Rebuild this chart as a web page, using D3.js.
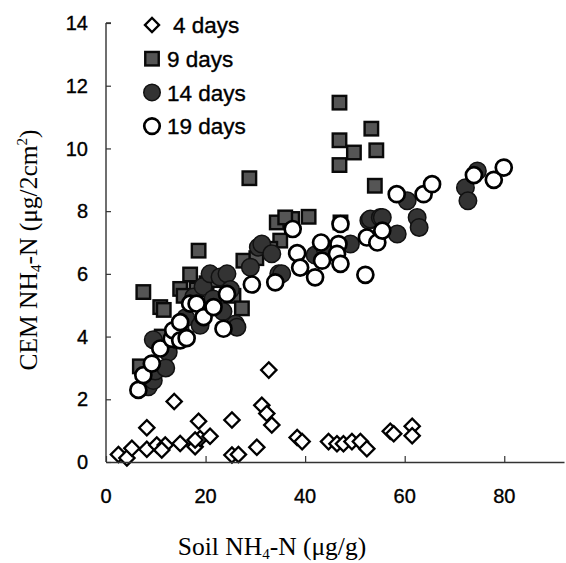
<!DOCTYPE html>
<html>
<head>
<meta charset="utf-8">
<script src="https://cdn.jsdelivr.net/npm/d3@7"></script>
<style>
  html, body { margin: 0; padding: 0; background: #fff; }
  svg { display: block; }
</style>
</head>
<body>
<div id="chart"></div>
<script>
// Data: [soil NH4-N (ug/g), CEM NH4-N (ug/2cm2)]
const days4 = [
  [2.5, 0.24], [4.2, 0.13], [5.2, 0.44], [8.2, 0.41], [8.2, 1.09], [10.2, 0.54],
  [11.9, 0.54], [11.2, 0.38], [13.7, 1.93], [14.9, 0.59], [17.9, 0.49], [18.6, 1.3],
  [18.9, 0.75], [20.9, 0.82], [17.9, 0.7], [25.3, 1.34], [25.3, 0.22], [26.6, 0.24],
  [30.3, 0.47], [31.3, 1.81], [32.3, 1.55], [33.3, 1.18], [32.7, 2.93], [38.4, 0.78],
  [39.4, 0.65], [44.7, 0.65], [46.4, 0.58], [47.7, 0.58], [49.4, 0.65], [51.1, 0.65],
  [52.4, 0.42], [57.1, 0.98], [57.8, 0.9], [61.5, 1.14], [61.5, 0.84]
];
const days9 = [
  [6.8, 3.05], [7.5, 5.42], [10.9, 4.94], [11.6, 4.85], [11.2, 4.0], [14.9, 5.52],
  [15.6, 5.3], [16.9, 5.98], [18.6, 6.74], [18.2, 5.5], [20.2, 5.7], [22.2, 5.8],
  [25.6, 5.3], [27.3, 4.9], [27.6, 6.42], [28.8, 9.05], [34.3, 7.64], [35, 7.06],
  [37.4, 7.75], [40.7, 7.82], [47.1, 7.64], [46.9, 11.46], [46.9, 10.26], [46.9, 9.47],
  [49.8, 9.87], [53.3, 10.63], [54.3, 9.94], [54, 8.81], [36, 7.8], [30.2, 6.5], [33, 6.8]
];
const days14 = [
  [8.5, 2.4], [9.5, 2.6], [9.9, 2.9], [9.5, 3.9], [12.5, 3.5], [14.2, 3.9], [14.9, 4.2],
  [16, 4.6], [17.6, 5.26], [18.9, 4.36], [19.5, 5.6], [20.9, 6.0], [22.9, 5.9], [24.3, 6.0],
  [25, 5.5], [26, 4.4], [26.3, 4.3], [29, 6.21], [30.6, 6.85], [31.3, 6.95], [33.3, 6.64],
  [34.7, 6.0], [35.3, 6.0], [42, 6.6], [44, 6.8], [49.1, 6.95], [52.8, 7.7], [53.1, 7.75],
  [55.1, 7.8], [55.5, 7.8], [58.5, 7.27], [60.5, 8.33], [62.5, 7.8], [62.9, 7.48],
  [72.2, 8.75], [72.7, 8.33], [74.6, 9.28], [21.5, 5.2], [23.5, 4.8], [12, 3.0]
];
const days19 = [
  [6.5, 2.3], [7.5, 2.77], [9.2, 3.14], [10.9, 3.62], [13.2, 3.93], [13.5, 4.2],
  [14.9, 4.46], [14.9, 3.88], [16.2, 3.95], [16.9, 5.05], [18.2, 5.05], [19.6, 4.62],
  [21.6, 4.94], [23.6, 4.25], [24.3, 5.36], [29.3, 5.66], [34, 5.73], [37.5, 7.43],
  [38.4, 6.66], [39, 6.2], [42, 5.89], [43.2, 7.0], [43.4, 6.42], [46.7, 6.95],
  [46.4, 6.64], [47.1, 6.32], [47.1, 7.59], [52.1, 5.97], [52.4, 7.16], [54.5, 7.0],
  [55.5, 7.38], [58.4, 8.54], [63.8, 8.54], [65.5, 8.86], [73.9, 9.15], [77.9, 9.0],
  [79.9, 9.39]
];
const seriesNames = ['4 days', '9 days', '14 days', '19 days'];
const xTicks = [0, 20, 40, 60, 80];
const yTicks = [0, 2, 4, 6, 8, 10, 12, 14];

const W = 566, H = 563;
const AXIS_COLOR = '#333';
const SANS = 'Arial, "Liberation Sans", sans-serif';
const SERIF = '"Times New Roman", "Liberation Serif", serif';

const svg = d3.select('#chart').append('svg')
  .attr('width', W).attr('height', H);

const x = d3.scaleLinear().domain([0, 92]).range([106, 564]);
const y = d3.scaleLinear().domain([0, 14]).range([462, 23]);

// marker drawing helpers
const marks = {
  '4 days': (g, s) => g.append('rect')
      .attr('x', -s / 2).attr('y', -s / 2).attr('width', s).attr('height', s)
      .attr('transform', 'rotate(45)')
      .attr('fill', '#fff').attr('stroke', '#000').attr('stroke-width', 2.3),
  '9 days': (g, s) => g.append('rect')
      .attr('x', -s / 2).attr('y', -s / 2).attr('width', s).attr('height', s)
      .attr('fill', '#555').attr('stroke', '#0a0a0a').attr('stroke-width', 2.4),
  '14 days': (g, s) => g.append('circle').attr('r', s / 2)
      .attr('fill', '#333').attr('stroke', '#111').attr('stroke-width', 1.5),
  '19 days': (g, s) => g.append('circle').attr('r', s / 2)
      .attr('fill', '#fff').attr('stroke', '#000').attr('stroke-width', 2.7)
};
const markSize = { '4 days': 10.8, '9 days': 13.5, '14 days': 17.5, '19 days': 16 };

const allSeries = [days4, days9, days14, days19];

// points
allSeries.forEach((data, i) => {
  const name = seriesNames[i];
  svg.append('g').selectAll('g')
    .data(data)
    .enter()
    .append('g')
    .attr('transform', d => `translate(${x(d[0])},${y(d[1])})`)
    .each(function() { marks[name](d3.select(this), markSize[name]); });
});

// axes
const yAxis = svg.append('g')
  .attr('transform', `translate(${x(0)},0)`)
  .call(d3.axisRight(y).tickValues(yTicks).tickSize(5).tickFormat(''));
const xAxis = svg.append('g')
  .attr('transform', `translate(0,${y(0)})`)
  .call(d3.axisTop(x).tickValues(xTicks).tickSize(6).tickFormat('').tickSizeOuter(0));
[yAxis, xAxis].forEach(a => {
  a.select('.domain').attr('stroke', AXIS_COLOR).attr('stroke-width', 1.4);
  a.selectAll('.tick line').attr('stroke', AXIS_COLOR).attr('stroke-width', 1.2);
});
yAxis.select('.domain').attr('d', `M0,${y(14)}H5M0,${y(14)}V${y(0)}`);

// tick labels
svg.append('g').selectAll('text')
  .data(yTicks)
  .enter()
  .append('text')
  .attr('x', 88)
  .attr('y', d => y(d))
  .attr('dy', '0.36em')
  .attr('text-anchor', 'end')
  .attr('font-family', SANS)
  .attr('font-size', 20)
  .attr('stroke', '#000').attr('stroke-width', 0.35)
  .text(d => d);

svg.append('g').selectAll('text')
  .data(xTicks)
  .enter()
  .append('text')
  .attr('x', d => x(d))
  .attr('y', 503)
  .attr('text-anchor', 'middle')
  .attr('font-family', SANS)
  .attr('font-size', 20)
  .attr('stroke', '#000').attr('stroke-width', 0.35)
  .text(d => d);

// axis titles
const xTitle = svg.append('text')
  .attr('x', 272).attr('y', 555)
  .attr('text-anchor', 'middle')
  .attr('font-family', SERIF)
  .attr('font-size', 25.5);
xTitle.append('tspan').text('Soil NH');
xTitle.append('tspan').attr('font-size', 15).attr('dy', 4).text('4');
xTitle.append('tspan').attr('dy', -4).text('-N (μg/g)');

const yTitle = svg.append('text')
  .attr('transform', 'translate(37,250) rotate(-90)')
  .attr('text-anchor', 'middle')
  .attr('font-family', SERIF)
  .attr('font-size', 25.5);
yTitle.append('tspan').text('CEM NH');
yTitle.append('tspan').attr('font-size', 15).attr('dy', 4).text('4');
yTitle.append('tspan').attr('dy', -4).text('-N (μg/2cm');
yTitle.append('tspan').attr('font-size', 15).attr('dy', -10).text('2');
yTitle.append('tspan').attr('dy', 10).text(')');

// legend
const legendSize = { '4 days': 10, '9 days': 13.5, '14 days': 16.5, '19 days': 15.5 };
const legend = svg.append('g').selectAll('g')
  .data(seriesNames)
  .enter()
  .append('g')
  .attr('transform', (d, i) => `translate(152,${25 + i * 33.7})`);
legend.each(function(d) { marks[d](d3.select(this), legendSize[d]); });
legend.append('text')
  .attr('x', (d, i) => i === 0 ? 21 : 15)
  .attr('dy', '0.36em')
  .attr('font-family', SANS)
  .attr('font-size', 22.5)
  .attr('stroke', '#000').attr('stroke-width', 0.35)
  .text(d => d);
</script>
</body>
</html>
